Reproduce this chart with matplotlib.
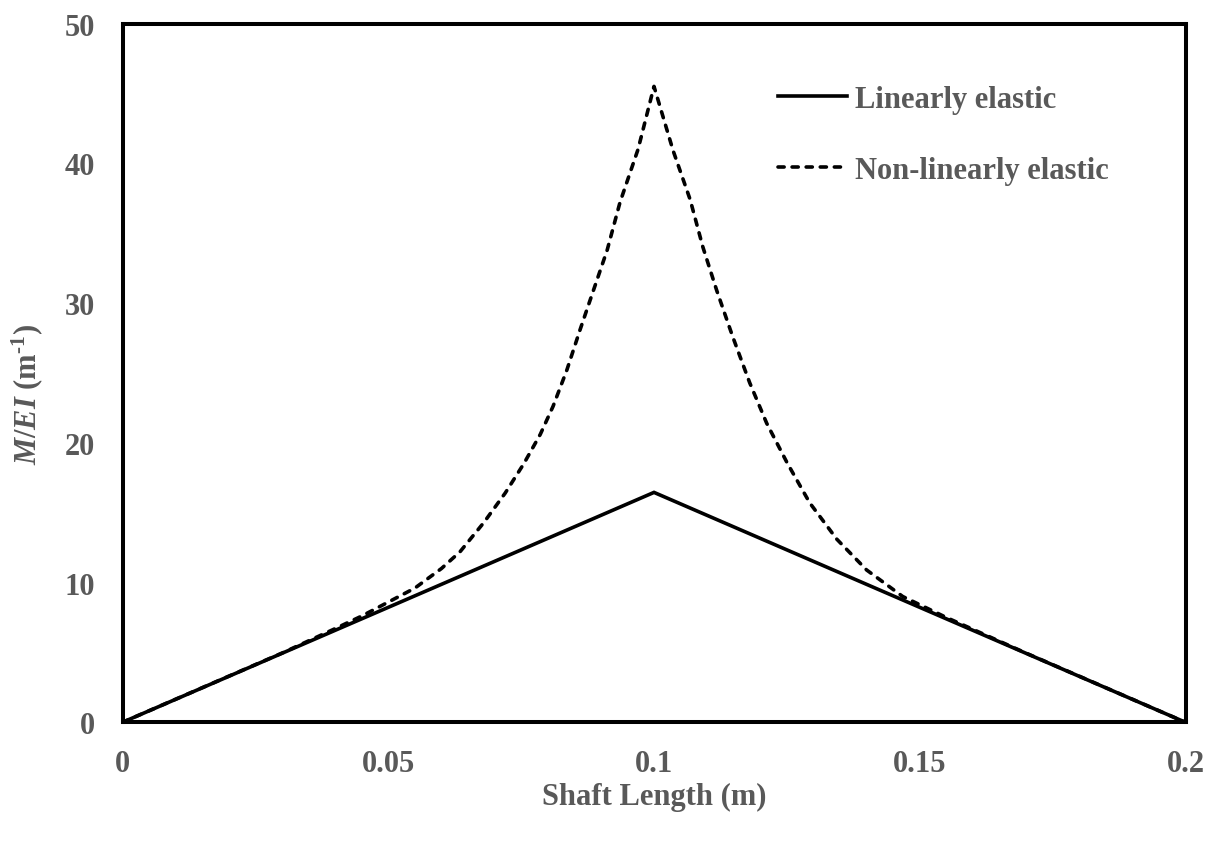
import matplotlib
matplotlib.use("Agg")
import matplotlib.pyplot as plt

# Shaft position (m) and curvature M/EI (1/m)
x_linear = [0.0, 0.1, 0.2]
y_linear = [0.0, 16.45, 0.0]

x_nonlinear = [0.0, 0.02, 0.03, 0.04, 0.045, 0.05, 0.055, 0.06, 0.0635, 0.068,
               0.072, 0.0755, 0.0786, 0.081, 0.0836, 0.0861, 0.0886, 0.0912,
               0.0936, 0.097, 0.1,
               0.1036, 0.1068, 0.1092, 0.1118, 0.1148, 0.118, 0.1212, 0.125,
               0.1293, 0.1344, 0.14, 0.1468, 0.155, 0.16, 0.17, 0.18, 0.2]
y_nonlinear = [0.0, 3.3, 4.95, 6.7, 7.6, 8.6, 9.6, 11.0, 12.2, 14.3,
               16.4, 18.5, 20.6, 22.6, 25.2, 28.1, 30.9, 33.8,
               37.2, 41.0, 45.5,
               40.9, 37.4, 34.0, 30.9, 27.6, 24.3, 21.4, 18.6,
               15.7, 13.1, 10.9, 9.0, 7.5, 6.65, 4.95, 3.3, 0.0]

x_ticks = [0, 0.05, 0.1, 0.15, 0.2]
x_ticklabels = ["0", "0.05", "0.1", "0.15", "0.2"]
y_ticks = [0, 10, 20, 30, 40, 50]

series_labels = ["Linearly elastic", "Non-linearly elastic"]

plt.rcParams["font.family"] = ["Liberation Serif", "DejaVu Serif"]
plt.rcParams["font.weight"] = "bold"
plt.rcParams["mathtext.fontset"] = "custom"
plt.rcParams["mathtext.rm"] = "Liberation Serif:bold"
plt.rcParams["mathtext.it"] = "Liberation Serif:italic:bold"
plt.rcParams["mathtext.bf"] = "Liberation Serif:bold"

GREY = "#595959"
FS = 22
LW = 2.6

W, H = 1221, 854
fig = plt.figure(figsize=(W / 100, H / 100), dpi=100)
left, right, top, bottom = 122.5, 1185.5, 24.5, 723.3
ax = fig.add_axes([left / W, 1 - bottom / H, (right - left) / W, (bottom - top) / H])

ax.plot(x_linear, y_linear, color="black", lw=LW, solid_joinstyle="miter",
        label=series_labels[0])
ax.plot(x_nonlinear, y_nonlinear, color="black", lw=LW,
        linestyle=(0, (1.7, 2.2)), dash_capstyle="round",
        label=series_labels[1])

ax.set_xlim(0, 0.2)
ax.set_ylim(0, 50)
ax.set_xticks(x_ticks)
ax.set_xticklabels(x_ticklabels)
ax.set_yticks(y_ticks)
ax.tick_params(length=0, pad=19.5, labelsize=FS, colors=GREY)
for lab in ax.get_xticklabels() + ax.get_yticklabels():
    lab.set_fontweight("bold")

for sp in ax.spines.values():
    sp.set_linewidth(2.9)
    sp.set_color("black")

ax.set_xlabel("Shaft Length (m)", fontsize=FS, color=GREY, fontweight="bold",
              va="center")
ax.xaxis.set_label_coords(0.5, (bottom - 797) / (bottom - top))

ax.set_ylabel(r"$M/EI$ (m$^{\text{-}1}$)", fontsize=FS, color=GREY,
              fontweight="bold", va="center")
ax.yaxis.set_label_coords((27 - left) / (right - left), 0.47)

leg = ax.legend(loc="upper left", bbox_to_anchor=(778 / W, 1 - 86 / H),
                bbox_transform=fig.transFigure, frameon=False, fontsize=FS,
                handlelength=2.25, handletextpad=0.28, labelspacing=1.36,
                borderpad=0, borderaxespad=0)
for t in leg.get_texts():
    t.set_color(GREY)
    t.set_fontweight("bold")

fig.savefig("out.png", dpi=100)
